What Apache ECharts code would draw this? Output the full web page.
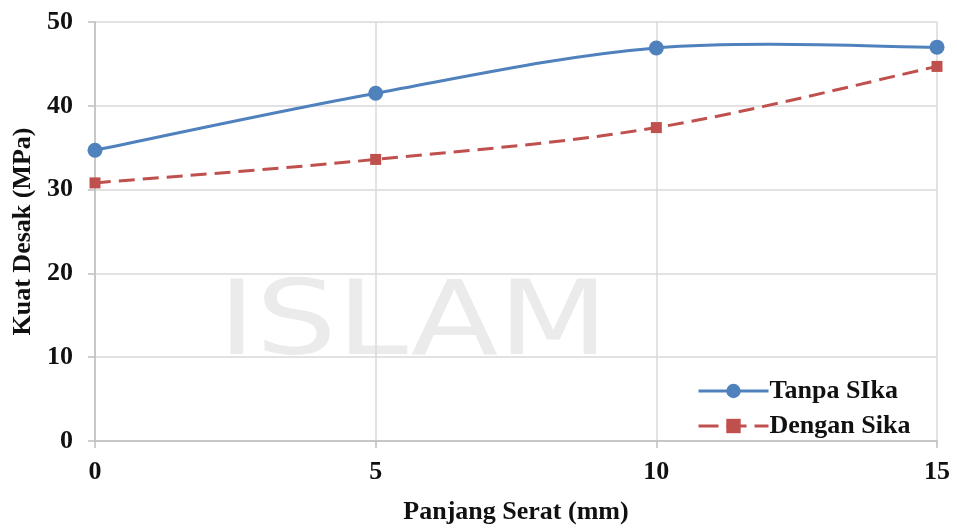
<!DOCTYPE html>
<html>
<head>
<meta charset="utf-8">
<script src="https://cdn.jsdelivr.net/npm/echarts@6/dist/echarts.min.js"></script>
<style>html,body{margin:0;padding:0;background:#fff}#c{width:957px;height:532px}</style>
</head>
<body>
<div id="c"></div>
<script>
const xValues = [0, 5, 10, 15];
const tanpaSika = [34.7, 41.5, 46.9, 47.0];
const denganSika = [30.8, 33.6, 37.4, 44.7];
const seriesNames = ['Tanpa SIka', 'Dengan Sika'];
const xTitle = 'Panjang Serat (mm)';
const yTitle = 'Kuat Desak (MPa)';

const BLUE = '#4f81bd', RED = '#c0504d';
const font = '"Liberation Serif", "Times New Roman", serif';
const txt = '#111';

// Excel-like smoothed curve through the data points (Catmull-Rom -> Bezier), in pixel space via api.coord
function smoothRenderer(values, color, dash) {
  return function (params, api) {
    if (params.dataIndex !== 0) return null;
    const pts = xValues.map((x, i) => api.coord([x, values[i]]));
    let d = 'M' + pts[0][0] + ' ' + pts[0][1];
    for (let i = 0; i < pts.length - 1; i++) {
      const p0 = pts[Math.max(i - 1, 0)], p1 = pts[i], p2 = pts[i + 1], p3 = pts[Math.min(i + 2, pts.length - 1)];
      const c1 = [p1[0] + (p2[0] - p0[0]) / 6, p1[1] + (p2[1] - p0[1]) / 6];
      const c2 = [p2[0] - (p3[0] - p1[0]) / 6, p2[1] - (p3[1] - p1[1]) / 6];
      d += ' C' + c1[0] + ' ' + c1[1] + ' ' + c2[0] + ' ' + c2[1] + ' ' + p2[0] + ' ' + p2[1];
    }
    return {
      type: 'path', shape: {pathData: d},
      style: {fill: null, stroke: color, lineWidth: 3, lineDash: dash || null}
    };
  };
}

const chart = echarts.init(document.getElementById('c'), null, {renderer: 'canvas'});
chart.setOption({
  animation: false,
  backgroundColor: '#fff',
  graphic: [{
    type: 'text', left: 218, top: 276, silent: true, z: -10, scaleX: 1.24,
    style: {text: 'ISLAM', fontSize: 103, fontFamily: '"DejaVu Sans", sans-serif', fontWeight: 'normal', fill: '#ebebeb'}
  }],
  grid: {left: 95, right: 20, top: 22, bottom: 91, containLabel: false},
  legend: {
    orient: 'vertical', left: 692, top: 373, itemGap: 9, itemWidth: 70, itemHeight: 18,
    textStyle: {fontFamily: font, fontWeight: 'bold', fontSize: 26, color: txt, padding: [0, 0, 0, -4]},
    data: [
      {name: seriesNames[0], lineStyle: {color: BLUE, width: 3, opacity: 1, type: 'solid'}},
      {name: seriesNames[1], lineStyle: {color: RED, width: 3, opacity: 1, type: [20, 8]}}
    ]
  },
  xAxis: {
    type: 'value', min: 0, max: 15, interval: 5,
    name: xTitle, nameLocation: 'middle', nameGap: 58,
    nameTextStyle: {fontFamily: font, fontWeight: 'bold', fontSize: 26, color: txt},
    axisLine: {show: true, lineStyle: {color: '#bfbfbf', width: 1.5}},
    axisTick: {show: true, length: 7, lineStyle: {color: '#bfbfbf', width: 1.5}},
    axisLabel: {fontFamily: font, fontWeight: 'bold', fontSize: 26, color: txt, margin: 18},
    splitLine: {show: true, lineStyle: {color: '#d9d9d9', width: 1.5}}
  },
  yAxis: {
    type: 'value', min: 0, max: 50, interval: 10,
    name: yTitle, nameLocation: 'middle', nameGap: 55, nameRotate: 90,
    nameTextStyle: {fontFamily: font, fontWeight: 'bold', fontSize: 26, color: txt},
    axisLine: {show: true, lineStyle: {color: '#bfbfbf', width: 1.5}},
    axisTick: {show: true, length: 7, lineStyle: {color: '#bfbfbf', width: 1.5}},
    axisLabel: {fontFamily: font, fontWeight: 'bold', fontSize: 26, color: txt, margin: 22},
    splitLine: {show: true, lineStyle: {color: '#d9d9d9', width: 1.5}}
  },
  series: [
    {
      name: seriesNames[0] + ' curve', type: 'custom', z: 2, silent: true,
      renderItem: smoothRenderer(tanpaSika, BLUE),
      data: xValues.map((x, i) => [x, tanpaSika[i]])
    },
    {
      name: seriesNames[1] + ' curve', type: 'custom', z: 2, silent: true,
      renderItem: smoothRenderer(denganSika, RED, [16, 8]),
      data: xValues.map((x, i) => [x, denganSika[i]])
    },
    {
      name: seriesNames[0], type: 'line', z: 5,
      data: xValues.map((x, i) => [x, tanpaSika[i]]),
      symbol: 'circle', symbolSize: 15, showAllSymbol: true,
      itemStyle: {color: BLUE},
      lineStyle: {color: BLUE, width: 3, opacity: 0}
    },
    {
      name: seriesNames[1], type: 'line', z: 5,
      data: xValues.map((x, i) => [x, denganSika[i]]),
      symbol: 'rect', symbolSize: 11, showAllSymbol: true,
      itemStyle: {color: RED},
      lineStyle: {color: RED, width: 3, opacity: 0, type: [16, 8]}
    }
  ]
});
</script>
</body>
</html>
